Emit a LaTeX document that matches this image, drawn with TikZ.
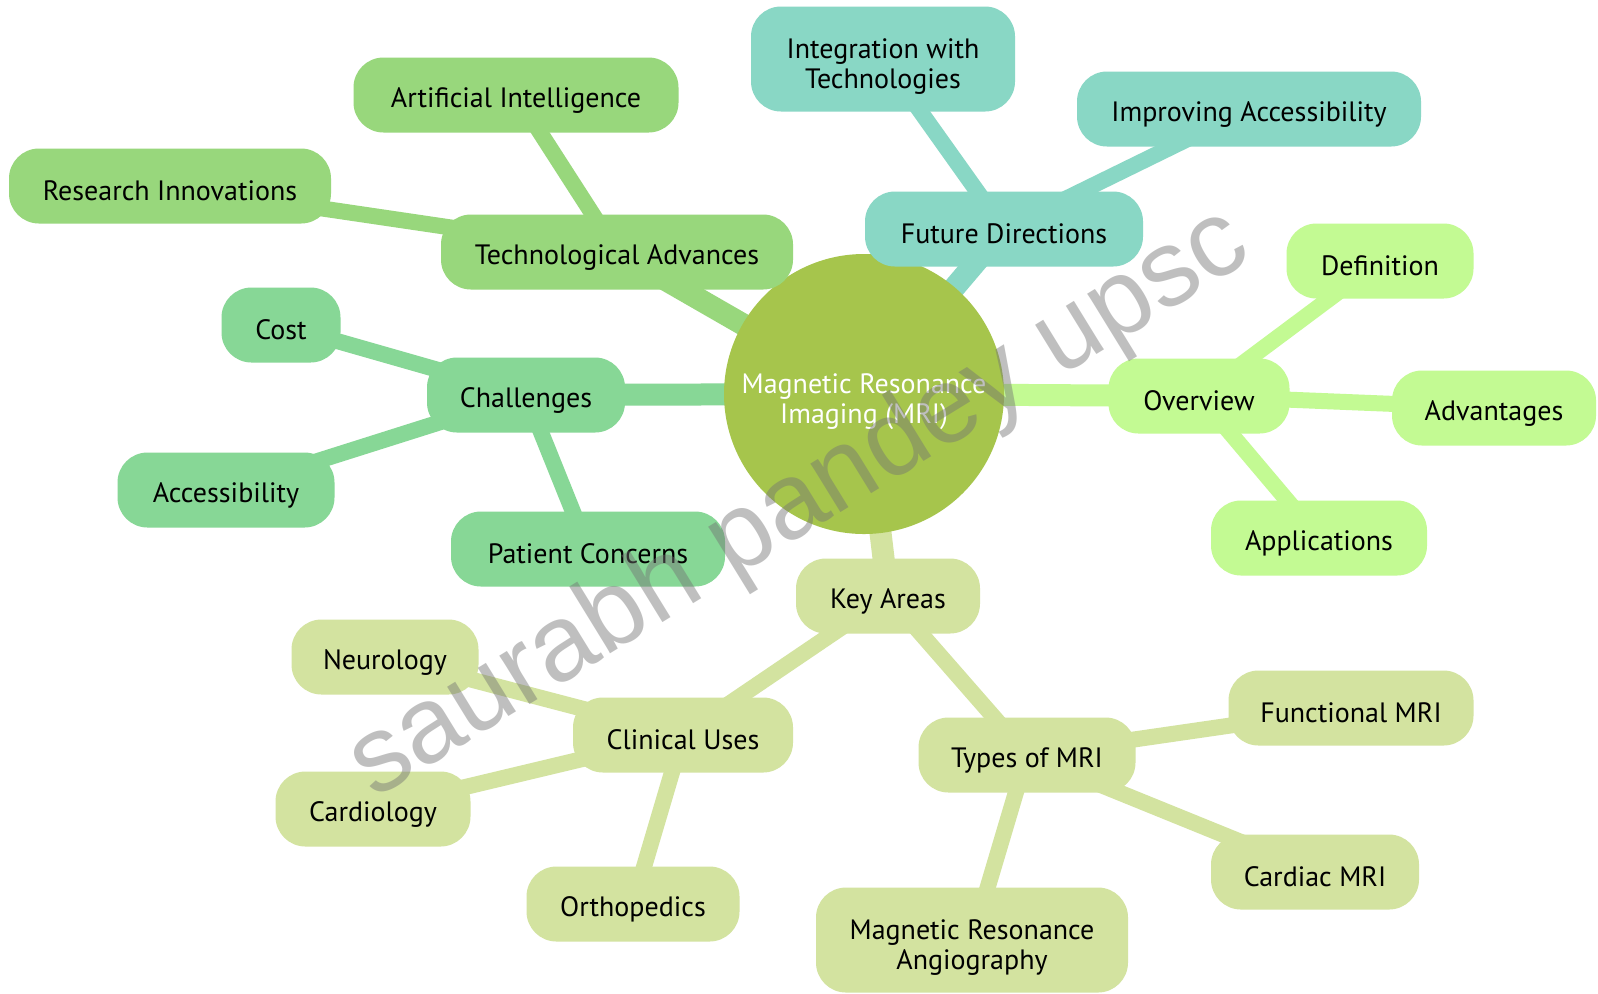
\documentclass[tikz,border=0pt]{standalone}
\usepackage{fontspec}
\setmainfont{PT Sans}
\newfontfamily\wmfont{Liberation Sans}
\usetikzlibrary{backgrounds}
\definecolor{cCenter}{RGB}{166,197,76}
\definecolor{cTech}{RGB}{152,215,124}
\definecolor{cChal}{RGB}{135,215,150}
\definecolor{cFut}{RGB}{137,215,197}
\definecolor{cOv}{RGB}{195,250,147}
\definecolor{cKey}{RGB}{211,227,160}
\definecolor{cWm}{RGB}{115,115,115}
\tikzset{
  mmbox/.style={rounded corners=15pt, minimum height=37.5pt, inner sep=1pt,
    align=center, text=black, font=\fontsize{14pt}{15pt}\selectfont,
    execute at begin node={\rule{0pt}{15pt}}},
  mmtwo/.style={minimum height=52.5pt, execute at begin node={\rule{0pt}{32.5pt}}},
  lvlone/.style={line width=11pt},
  lvltwo/.style={line width=8pt},
}
\begin{document}
\begin{tikzpicture}[x=0.5pt,y=-0.5pt]
\useasboundingbox (0,0) rectangle (1598,993);
% center
\node[circle, fill=cCenter, minimum size=140pt, inner sep=0pt, align=center,
  text=white, font=\fontsize{14pt}{15pt}\selectfont,
  execute at begin node={\rule{0pt}{32.5pt}}] (c) at (864,394) {Magnetic Resonance\\Imaging (MRI)};
% Technological Advances branch
\node[mmbox, fill=cTech, minimum width=176pt] (tech) at (617,252) {Technological Advances};
\node[mmbox, fill=cTech, minimum width=162.5pt] (ai) at (516,95) {Artificial Intelligence};
\node[mmbox, fill=cTech, minimum width=161pt] (res) at (170,186) {Research Innovations};
% Challenges branch
\node[mmbox, fill=cChal, minimum width=99pt] (chal) at (526,395) {Challenges};
\node[mmbox, fill=cChal, minimum width=59.5pt] (cost) at (281,325) {Cost};
\node[mmbox, fill=cChal, minimum width=108.5pt] (acc) at (226,490) {Accessibility};
\node[mmbox, fill=cChal, minimum width=137pt] (pat) at (588,549) {Patient Concerns};
% Future Directions branch
\node[mmbox, fill=cFut, minimum width=139pt] (fut) at (1004,229) {Future Directions};
\node[mmbox, mmtwo, fill=cFut, minimum width=132pt] (integ) at (883,59) {Integration with\\Technologies};
\node[mmbox, fill=cFut, minimum width=172pt] (impr) at (1249,109) {Improving Accessibility};
% Overview branch
\node[mmbox, fill=cOv, minimum width=90.5pt] (ov) at (1199,396) {Overview};
\node[mmbox, fill=cOv, minimum width=93.5pt] (defn) at (1380,261) {Definition};
\node[mmbox, fill=cOv, minimum width=102pt] (adv) at (1494,408) {Advantages};
\node[mmbox, fill=cOv, minimum width=108pt] (app) at (1319,538) {Applications};
% Key Areas branch
\node[mmbox, fill=cKey, minimum width=92pt] (key) at (888,596) {Key Areas};
\node[mmbox, fill=cKey, minimum width=110pt] (clin) at (683,735) {Clinical Uses};
\node[mmbox, fill=cKey, minimum width=93.5pt] (neur) at (385,657) {Neurology};
\node[mmbox, fill=cKey, minimum width=97.5pt] (card) at (373,809) {Cardiology};
\node[mmbox, fill=cKey, minimum width=106.5pt] (orth) at (633,904) {Orthopedics};
\node[mmbox, fill=cKey, minimum width=108.5pt] (types) at (1027,755) {Types of MRI};
\node[mmbox, fill=cKey, minimum width=122.5pt] (func) at (1351,708) {Functional MRI};
\node[mmbox, fill=cKey, minimum width=104pt] (cmri) at (1315,872) {Cardiac MRI};
\node[mmbox, mmtwo, fill=cKey, minimum width=156pt] (mra) at (972,940) {Magnetic Resonance\\Angiography};
% connectors
\begin{scope}[on background layer]
\fill[white] (0,0) rectangle (1598,993);
\draw[lvlone, cTech] (c.center) -- (tech.center);
\draw[lvltwo, cTech] (tech.center) -- (ai.center);
\draw[lvltwo, cTech] (tech.center) -- (res.center);
\draw[lvlone, cChal] (c.center) -- (chal.center);
\draw[lvltwo, cChal] (chal.center) -- (cost.center);
\draw[lvltwo, cChal] (chal.center) -- (acc.center);
\draw[lvltwo, cChal] (chal.center) -- (pat.center);
\draw[lvlone, cFut] (c.center) -- (fut.center);
\draw[lvltwo, cFut] (fut.center) -- (integ.center);
\draw[lvltwo, cFut] (fut.center) -- (impr.center);
\draw[lvlone, cOv] (c.center) -- (ov.center);
\draw[lvltwo, cOv] (ov.center) -- (defn.center);
\draw[lvltwo, cOv] (ov.center) -- (adv.center);
\draw[lvltwo, cOv] (ov.center) -- (app.center);
\draw[lvlone, cKey] (c.center) -- (key.center);
\draw[lvltwo, cKey] (key.center) -- (clin.center);
\draw[lvltwo, cKey] (key.center) -- (types.center);
\draw[lvltwo, cKey] (clin.center) -- (neur.center);
\draw[lvltwo, cKey] (clin.center) -- (card.center);
\draw[lvltwo, cKey] (clin.center) -- (orth.center);
\draw[lvltwo, cKey] (types.center) -- (func.center);
\draw[lvltwo, cKey] (types.center) -- (cmri.center);
\draw[lvltwo, cKey] (types.center) -- (mra.center);
\end{scope}
% watermark
\node[rotate=31.6, text=cWm, text opacity=0.45, inner sep=0pt,
  font=\wmfont\fontsize{54pt}{60pt}\selectfont] (wm) at (800,505) {saurabh pandey upsc};
\end{tikzpicture}
\end{document}
